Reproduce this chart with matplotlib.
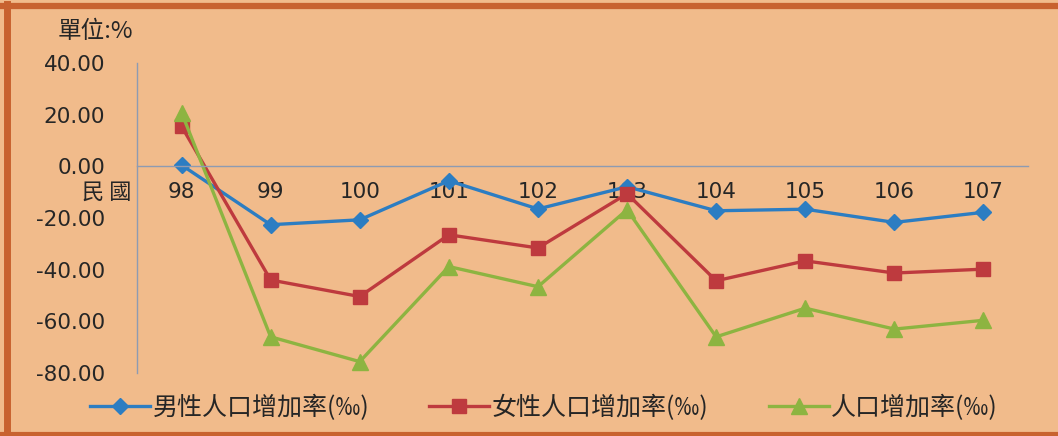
import matplotlib
matplotlib.use('Agg')
import matplotlib.pyplot as plt
from matplotlib.lines import Line2D

plt.rcParams['font.family'] = ['DejaVu Sans', 'Noto Sans CJK TC']

years = ['98', '99', '100', '101', '102', '103', '104', '105', '106', '107']
male = [0.5, -22.6, -20.7, -5.6, -16.5, -7.9, -17.2, -16.6, -21.7, -17.8]
female = [15.5, -44.0, -50.4, -26.5, -31.6, -10.6, -44.3, -36.6, -41.3, -39.8]
total = [20.8, -66.0, -75.6, -38.8, -46.6, -16.8, -66.0, -54.9, -63.0, -59.6]
labels = ['男性人口增加率(‰)', '女性人口增加率(‰)', '人口增加率(‰)']
yticks = [40, 20, 0, -20, -40, -60, -80]

bg = '#F1BB8B'
axis_col = '#8E9BB2'
txt = '#262626'
cjk = ['Noto Sans CJK TC', 'DejaVu Sans']

fig = plt.figure(figsize=(10.58, 4.36), dpi=100, facecolor=bg)
ax = fig.add_axes([137 / 1058, 1 - 373 / 436, (1028 - 137) / 1058, 310 / 436])
ax.set_facecolor('none')

x = range(len(years))
ax.plot(x, male, color='#2C7DC2', lw=2.4, marker='D', ms=8.5, label=labels[0])
ax.plot(x, female, color='#BE3A3E', lw=2.4, marker='s', ms=10, label=labels[1])
ax.plot(x, total, color='#8DB441', lw=2.4, marker='^', ms=11, label=labels[2])

ax.set_xlim(-0.5, len(years) - 0.5)
ax.set_ylim(-80, 40)
ax.set_yticks(yticks)
ax.set_yticklabels(['%.2f' % v for v in yticks])
ax.set_xticks(list(x))
ax.set_xticklabels(years)

for s in ['top', 'right']:
    ax.spines[s].set_visible(False)
ax.spines['bottom'].set_position(('data', 0))
ax.spines['bottom'].set_color(axis_col)
ax.spines['bottom'].set_linewidth(1.0)
ax.spines['left'].set_color(axis_col)
ax.spines['left'].set_linewidth(1.0)
ax.tick_params(axis='y', length=0, pad=23, labelsize=15.5, labelcolor=txt)
ax.tick_params(axis='x', length=0, pad=11, labelsize=15.5, labelcolor=txt)

fig.text(58 / 1058, 1 - 32 / 436, '單位:%', fontsize=17, family=cjk,
         color=txt, va='center', ha='left')
fig.text(131 / 1058, 1 - 192 / 436, '民 國', fontsize=16, family=cjk,
         color=txt, va='center', ha='right')

fig.legend(loc='center', bbox_to_anchor=(544 / 1058, 1 - 408 / 436), ncol=3,
           frameon=False, prop={'family': cjk, 'size': 18}, handlelength=2.4,
           handletextpad=0.1, columnspacing=2.4, labelcolor=txt)

# orange frame around the picture
bc = '#C8622F'
fig.add_artist(Line2D([0, 1], [1 - 6.5 / 436] * 2, color=bc, lw=4.5, transform=fig.transFigure))
fig.add_artist(Line2D([6.5 / 1058] * 2, [0, 1 - 4 / 436], color=bc, lw=5, transform=fig.transFigure))
fig.add_artist(Line2D([0, 1], [2 / 436] * 2, color=bc, lw=3, transform=fig.transFigure))

fig.savefig('out.png', dpi=100, facecolor=bg)
